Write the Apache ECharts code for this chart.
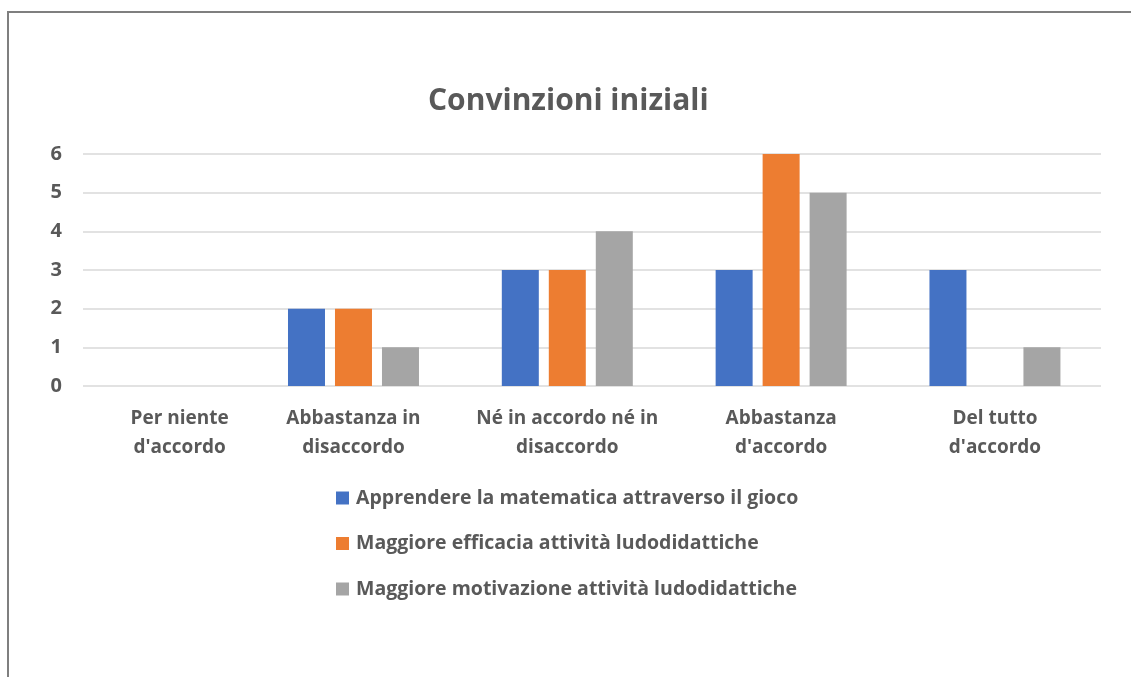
<!DOCTYPE html>
<html>
<head>
<meta charset="utf-8">
<script src="https://cdn.jsdelivr.net/npm/echarts@6/dist/echarts.min.js"></script>
<style>
  html, body { margin: 0; padding: 0; background: #ffffff; }
  #chart { width: 1131px; height: 677px; }
</style>
</head>
<body>
<div id="chart"></div>
<script>
// Response categories (Likert scale)
const categories = [
  "Per niente\nd'accordo",
  "Abbastanza in\ndisaccordo",
  "Né in accordo né in\ndisaccordo",
  "Abbastanza\nd'accordo",
  "Del tutto\nd'accordo"
];
const seriesNames = [
  "Apprendere la matematica attraverso il gioco",
  "Maggiore efficacia attività ludodidattiche",
  "Maggiore motivazione attività ludodidattiche"
];
const apprendere = [0, 2, 3, 3, 3];
const efficacia  = [0, 2, 3, 6, 0];
const motivazione = [0, 1, 4, 5, 1];
const yTicks = [0, 1, 2, 3, 4, 5, 6];

const colors = ['#4472C4', '#ED7D31', '#A5A5A5'];
const textColor = '#595959';
const fontFamily = "'Open Sans', 'Noto Sans', sans-serif";

// bars sit on a numeric x scale: category index -> x position
const toPairs = arr => arr.map((v, i) => [i, v]);

const chart = echarts.init(document.getElementById('chart'), null, { renderer: 'canvas' });
chart.setOption({
  animation: false,
  backgroundColor: '#ffffff',
  color: colors,
  title: {
    text: 'Convinzioni iniziali',
    left: 428,
    top: 86,
    padding: 0,
    textStyle: { color: textColor, fontSize: 30, fontWeight: 'bold', fontFamily }
  },
  grid: { left: 83, right: 30, top: 154, bottom: 291, containLabel: false },
  xAxis: {
    type: 'value',
    min: -0.265,
    max: 4.496,
    splitLine: { show: false },
    axisLine: { show: false },
    axisTick: { show: false },
    axisLabel: {
      customValues: categories.map((c, i) => i),
      margin: 18,
      color: textColor,
      fontSize: 19,
      fontWeight: 'bold',
      fontFamily,
      lineHeight: 29,
      formatter: v => {
        const i = Math.round(v);
        return i === 0 ? '{first|' + categories[i] + '}' : categories[i];
      },
      rich: {
        first: {
          color: textColor, fontSize: 19, fontWeight: 'bold', fontFamily,
          lineHeight: 29, padding: [0, 0, 0, 80]
        }
      }
    }
  },
  yAxis: {
    type: 'value',
    min: yTicks[0],
    max: yTicks[yTicks.length - 1],
    interval: 1,
    axisLine: { show: false },
    axisTick: { show: false },
    splitLine: { lineStyle: { color: '#d9d9d9', width: 1.5 } },
    axisLabel: { color: textColor, fontSize: 20, fontWeight: 'bold', fontFamily, margin: 21 }
  },
  legend: {
    orient: 'vertical',
    left: 336,
    top: 488,
    padding: 0,
    itemWidth: 13,
    itemHeight: 13,
    itemGap: 25.5,
    icon: 'rect',
    data: seriesNames,
    textStyle: { color: textColor, fontSize: 19.5, fontWeight: 'bold', fontFamily, padding: [0, 0, 0, 2] }
  },
  series: [
    { name: seriesNames[0], type: 'bar', data: toPairs(apprendere), barWidth: 37, barGap: '27%' },
    { name: seriesNames[1], type: 'bar', data: toPairs(efficacia), barWidth: 37, barGap: '27%' },
    { name: seriesNames[2], type: 'bar', data: toPairs(motivazione), barWidth: 37, barGap: '27%' }
  ],
  graphic: [
    {
      type: 'polyline',
      shape: { points: [[8, 677], [8, 12], [1131, 12]] },
      style: { stroke: '#7f7f7f', lineWidth: 2, fill: null }
    }
  ]
});
</script>
</body>
</html>
